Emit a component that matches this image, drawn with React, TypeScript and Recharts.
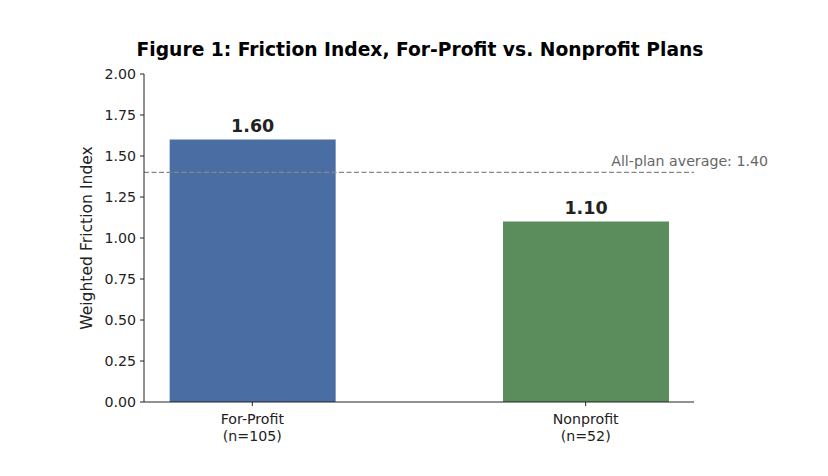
import React from 'react';
import { BarChart, Bar, XAxis, YAxis, ReferenceLine, LabelList, Cell } from 'recharts';

const categories = ['For-Profit', 'Nonprofit'];
const sampleSizes = [105, 52];
const frictionValues = [1.6, 1.1];
const barColors = ['#4a6ea3', '#5b8c5b'];
const yTicks = [0, 0.25, 0.5, 0.75, 1.0, 1.25, 1.5, 1.75, 2.0];
const allPlanAverage = 1.4;

const data = categories.map((name, i) => ({
    pos: i,
    name,
    n: sampleSizes[i],
    value: frictionValues[i],
}));

const FONT = '"DejaVu Sans", sans-serif';

const CategoryTick = ({ x, y, payload }: any) => {
    const d = data[payload.value];
    if (!d) return null;
    return (
        <g transform={`translate(${x},${y})`}>
            <text textAnchor="middle" fontFamily={FONT} fontSize={14.2} fill="#222">
                <tspan x={0} dy={16}>{d.name}</tspan>
                <tspan x={0} dy={17}>{`(n=${d.n})`}</tspan>
            </text>
        </g>
    );
};

const AverageLabel = ({ viewBox }: any) => {
    if (!viewBox) return null;
    return (
        <text
            x={viewBox.x + viewBox.width + 74}
            y={viewBox.y - 6}
            textAnchor="end"
            fontFamily={FONT}
            fontSize={14.2}
            fill="#666"
        >
            {`All-plan average: ${allPlanAverage.toFixed(2)}`}
        </text>
    );
};

const App: React.FC = () => {
    return (
        <div style={{ position: 'absolute', left: 0, top: 0, width: 828, height: 476, background: '#fff' }}>
            <div
                style={{
                    position: 'absolute',
                    left: 0,
                    top: 39,
                    width: 840,
                    textAlign: 'center',
                    fontFamily: FONT,
                    fontWeight: 'bold',
                    fontSize: 18.7,
                    color: '#000',
                }}
            >
                Figure 1: Friction Index, For-Profit vs. Nonprofit Plans
            </div>
            <BarChart
                width={828}
                height={476}
                data={data}
                margin={{ top: 74, right: 134, bottom: 0, left: 0 }}
            >
                <XAxis
                    dataKey="pos"
                    type="number"
                    domain={[-0.325, 1.325]}
                    ticks={[0, 1]}
                    allowDataOverflow
                    height={74}
                    tick={<CategoryTick />}
                    tickSize={4}
                    axisLine={{ stroke: '#222', strokeWidth: 1 }}
                    tickLine={{ stroke: '#222' }}
                />
                <YAxis
                    type="number"
                    domain={[0, 2]}
                    ticks={yTicks}
                    width={144}
                    tickFormatter={(v: number) => v.toFixed(2)}
                    tick={{ fontFamily: FONT, fontSize: 14.2, fill: '#222' }}
                    tickSize={4}
                    tickMargin={4}
                    axisLine={{ stroke: '#222', strokeWidth: 1 }}
                    tickLine={{ stroke: '#222' }}
                    label={{
                        value: 'Weighted Friction Index',
                        angle: -90,
                        position: 'insideLeft',
                        offset: 86,
                        style: { fontFamily: FONT, fontSize: 15.6, fill: '#222', textAnchor: 'middle' },
                    }}
                />
                <Bar dataKey="value" barSize={166} isAnimationActive={false}>
                    {data.map((d, i) => (
                        <Cell key={d.name} fill={barColors[i]} />
                    ))}
                    <LabelList
                        dataKey="value"
                        position="top"
                        offset={8}
                        formatter={(v: any) => Number(v).toFixed(2)}
                        style={{ fontFamily: FONT, fontSize: 17.5, fontWeight: 'bold', fill: '#222' }}
                    />
                </Bar>
                <ReferenceLine
                    y={allPlanAverage}
                    stroke="#888"
                    strokeWidth={1.2}
                    strokeDasharray="5 2.5"
                    label={<AverageLabel />}
                />
            </BarChart>
        </div>
    );
};

export default App;
